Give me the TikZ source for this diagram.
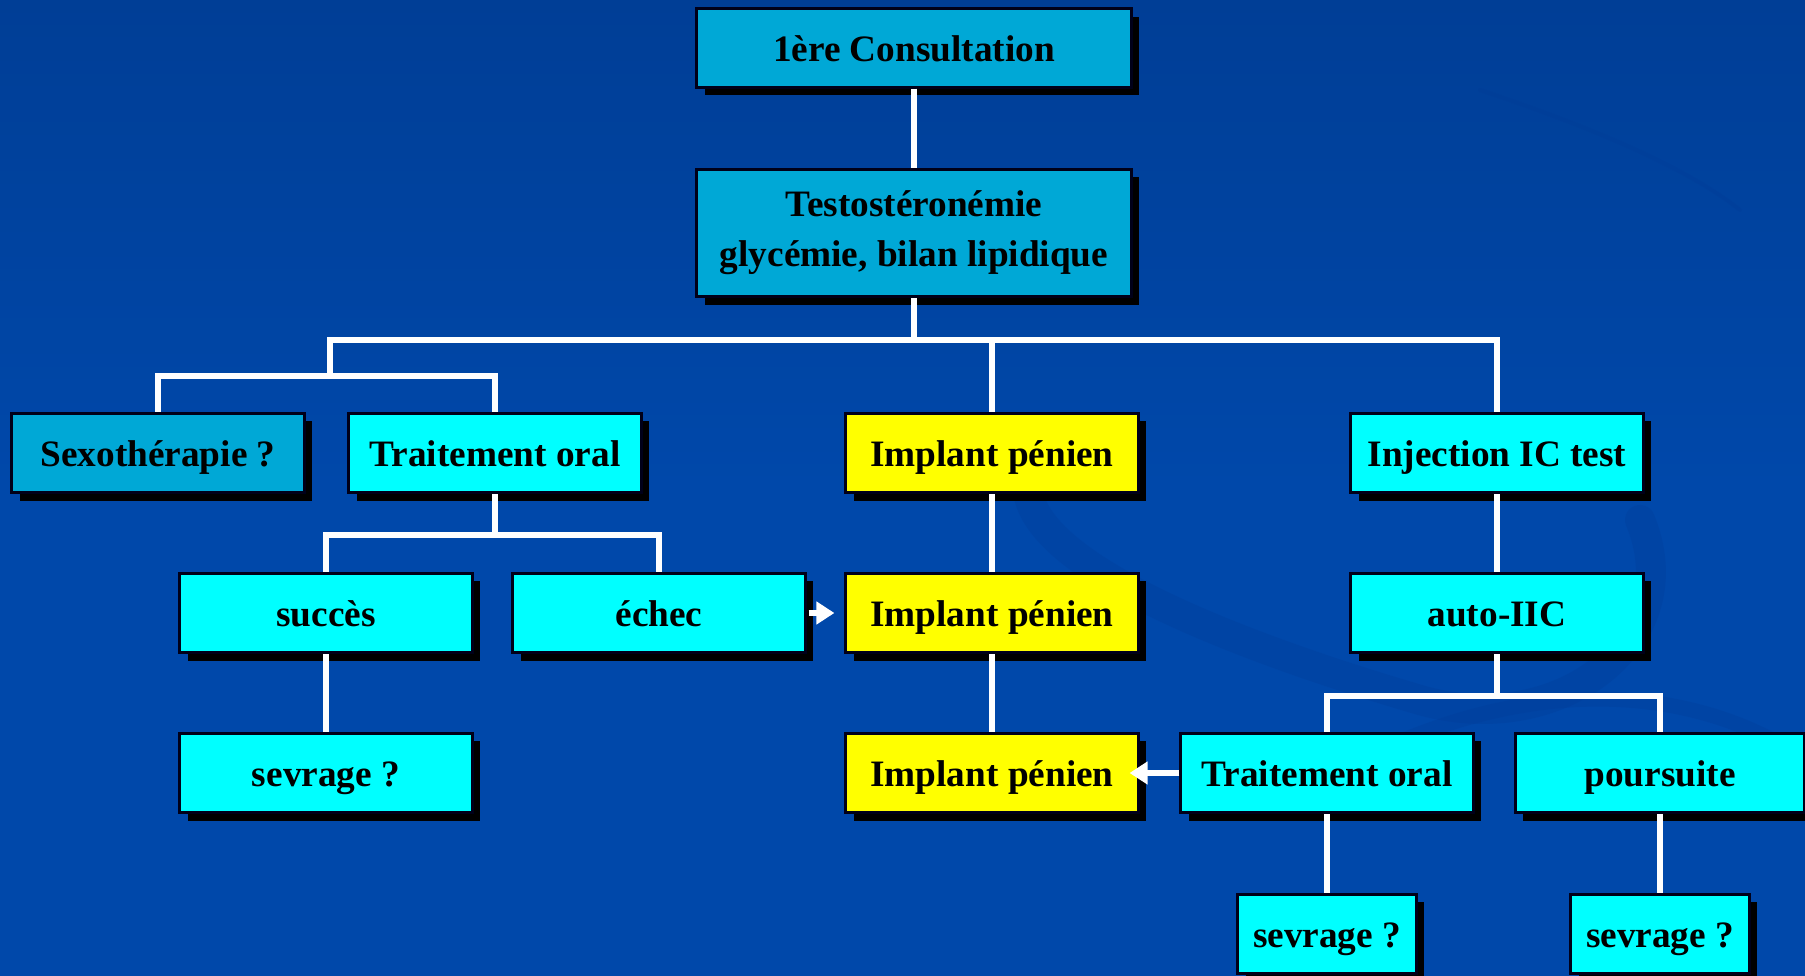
\documentclass[tikz,border=0pt]{standalone}
\usepackage{fontspec}
\setmainfont{Liberation Serif}
\usetikzlibrary{arrows.meta, shadows}

\definecolor{bgblue}{RGB}{0,72,170}
\definecolor{bgtop}{RGB}{0,62,150}
\definecolor{bgswirl}{RGB}{0,58,150}
\definecolor{deepcyan}{RGB}{0,168,214}
\definecolor{brightcyan}{RGB}{0,255,255}
\definecolor{brightyellow}{RGB}{255,255,0}

\begin{document}
\begin{tikzpicture}[
  x=0.01cm, y=-0.01cm,
  box/.style={draw=black!90!blue, line width=0.03cm, rectangle, inner sep=0pt,
    minimum width=2.92cm, minimum height=0.79cm, align=center,
    text height=0.3cm, text depth=0.03cm,
    font=\fontsize{10.6}{14.2}\selectfont\bfseries,
    general shadow={fill=black, shadow xshift=0.08cm, shadow yshift=-0.08cm}},
  darkbox/.style={box, fill=deepcyan},
  cyanbox/.style={box, fill=brightcyan},
  yellowbox/.style={box, fill=brightyellow},
  link/.style={draw=white, line width=0.06cm},
  arr/.style={link, -{Triangle[length=0.18cm, width=0.22cm]}},
  swirl/.style={draw=bgswirl, opacity=0.25, line cap=round}
]

% Background
\useasboundingbox (0,0) rectangle (1805,976);
\shade[top color=bgtop, bottom color=bgblue, middle color=bgblue] (0,0) rectangle (1805,976);
\draw[swirl, line width=0.3cm] (1030,470) .. controls (1000,560) and (1250,650) .. (1420,700)
  .. controls (1560,740) and (1690,640) .. (1640,520);
\draw[swirl, line width=0.15cm] (1360,760) .. controls (1560,660) and (1720,700) .. (1805,760);
\draw[swirl, line width=0.04cm] (1480,90) .. controls (1600,130) and (1690,170) .. (1740,210);

% Top
\node[darkbox, minimum width=4.34cm, minimum height=0.78cm] (consult) at (914,48) {1ère Consultation};
\node[darkbox, minimum width=4.34cm, minimum height=1.27cm, text height={}, text depth={}] (testo) at (914,233) {Testostéronémie\\glycémie, bilan lipidique};

% Row 1
\node[darkbox] (sexo) at (158,453) {Sexothérapie ?};
\node[cyanbox] (oral1) at (495,453) {Traitement oral};
\node[yellowbox] (implA) at (992,453) {Implant pénien};
\node[cyanbox] (inject) at (1497,453) {Injection IC test};

% Row 2
\node[cyanbox] (succes) at (326,613) {succès};
\node[cyanbox] (echec) at (659,613) {échec};
\node[yellowbox] (implB) at (992,613) {Implant pénien};
\node[cyanbox] (autoiic) at (1497,613) {auto-IIC};

% Row 3
\node[cyanbox] (sevA) at (326,773) {sevrage ?};
\node[yellowbox] (implC) at (992,773) {Implant pénien};
\node[cyanbox] (oral2) at (1327,773) {Traitement oral};
\node[cyanbox, minimum width=2.89cm] (pours) at (1660,773) {poursuite};

% Row 4
\node[cyanbox, minimum width=1.78cm] (sevB) at (1327,934) {sevrage ?};
\node[cyanbox, minimum width=1.78cm] (sevC) at (1660,934) {sevrage ?};

% Bus points
\coordinate (busA) at (914,340);
\coordinate (busL) at (330,376);
\coordinate (busB) at (495,535);
\coordinate (busC) at (1497,696);

% --- Tree links ---
\draw[link] (consult.south) -- (testo.north);
\draw[link] (testo.south) -- (busA);
\draw[link] (busL) -- (busL |- busA) -- (inject.north |- busA) -- (inject.north);
\draw[link] (implA.north |- busA) -- (implA.north);
\draw[link] (sexo.north) |- (busL) -| (oral1.north);

\draw[link] (oral1.south) -- (busB);
\draw[link] (succes.north) |- (busB) -| (echec.north);
\draw[link] (succes.south) -- (sevA.north);

\draw[link] (implA.south) -- (implB.north);
\draw[link] (implB.south) -- (implC.north);

\draw[link] (inject.south) -- (autoiic.north);
\draw[link] (autoiic.south) -- (busC);
\draw[link] (oral2.north) |- (busC) -| (pours.north);
\draw[link] (oral2.south) -- (sevB.north);
\draw[link] (pours.south) -- (sevC.north);

% --- Arrows ---
\draw[arr, shorten <=0.02cm, shorten >=0.1cm] (echec.east) -- (implB.west);
\draw[arr, shorten >=-0.1cm] (oral2.west) -- (implC.east);

\end{tikzpicture}
\end{document}
